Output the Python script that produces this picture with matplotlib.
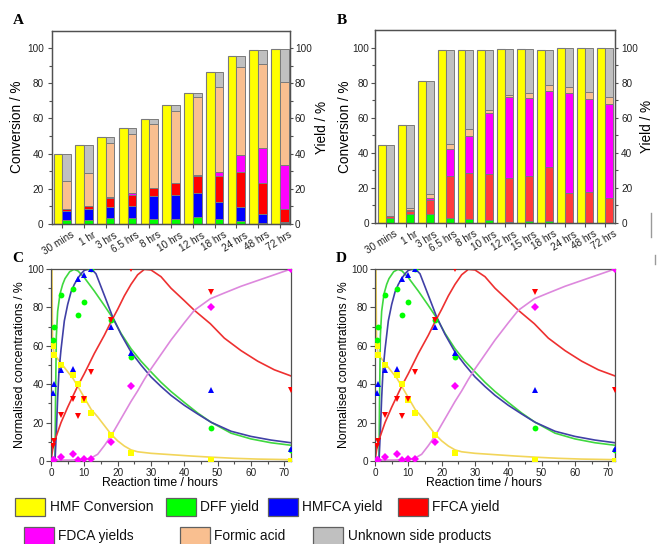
import matplotlib
matplotlib.use('Agg')
import matplotlib.pyplot as plt
from matplotlib.patches import Rectangle
from matplotlib.lines import Line2D
import matplotlib.transforms as mtransforms
import numpy as np

plt.rcParams['font.family'] = ['Liberation Sans', 'DejaVu Sans']

# ---------------- Panel A data ----------------
labels_a = ['30 mins', '1 hr', '3 hrs', '6.5 hrs', '8 hrs', '10 hrs', '12 hrs',
            '18 hrs', '24 hrs', '48 hrs', '72 hrs']
conv_a = [39.5, 44.7, 49.6, 54.8, 59.7, 67.9, 74.7, 86.5, 95.6, 99.2, 99.8]
dff_a = [2.1, 2.3, 3.0, 3.2, 2.7, 2.9, 3.6, 2.5, 1.7, 0.4, 0.2]
hmfca_a = [4.9, 5.9, 6.7, 6.9, 13.1, 13.4, 13.7, 9.7, 8.0, 5.1, 0.8]
ffca_a = [1.6, 2.1, 4.9, 6.2, 4.7, 6.7, 9.9, 14.9, 19.6, 17.5, 7.4]
fdca_a = [0.0, 0.0, 0.4, 1.0, 0.0, 0.3, 0.3, 2.6, 10.1, 20.2, 25.1]
formic_a = [15.7, 18.8, 30.8, 33.7, 36.3, 40.7, 44.5, 48.1, 49.8, 47.8, 47.1]
unknown_a = [15.2, 15.6, 3.8, 3.8, 2.9, 3.9, 2.7, 8.7, 6.4, 8.2, 19.2]

# ---------------- Panel B data ----------------
labels_b = ['30 mins', '1 hr', '3 hrs', '6.5 hrs', '8 hrs', '10 hrs', '12 hrs',
            '15 hrs', '18 hrs', '24 hrs', '48 hrs', '72 hrs']
conv_b = [44.2, 56.0, 80.8, 98.9, 98.9, 98.9, 99.4, 99.2, 98.9, 100, 100, 100]
dff_b = [2.5, 5.1, 5.0, 2.5, 1.9, 1.5, 0.6, 1.1, 1.1, 0.0, 0.0, 0.0]
hmfca_b = [0, 0, 0, 0, 0, 0, 0, 0, 0, 0, 0, 0]
ffca_b = [1.1, 1.6, 7.8, 24.2, 26.7, 26.1, 24.7, 25.6, 30.7, 16.8, 17.5, 13.9]
fdca_b = [0.0, 0.4, 1.5, 15.6, 20.9, 35.1, 46.5, 44.5, 43.2, 57.1, 53.4, 54.1]
formic_b = [0.3, 1.1, 1.9, 2.7, 4.0, 1.7, 1.3, 2.7, 3.5, 3.4, 3.8, 4.0]
unknown_b = [40.3, 47.8, 64.6, 53.9, 45.4, 34.5, 26.3, 25.3, 20.4, 22.7, 25.3, 28.0]

# ---------------- Panels C / D data ----------------
t_pts = [0.5, 1, 3, 6.5, 8, 10, 12, 18, 24, 48, 72]
hmf_pts = [60, 55, 50, 45, 40, 32, 25, 13.3, 4.0, 0.6, 0.2]
dff_pts = [63, 70, 86.5, 89.5, 76, 83, 100, 73.5, 54, 17, 5.5]
hmfca_pts = [35.5, 40, 47.5, 48, 95, 97, 100, 70, 56.5, 37, 6.5]
ffca_pts = [8, 10.5, 24, 32.5, 23.5, 32.5, 46.5, 73.5, 100, 88, 37]
fdca_pts = [0.5, 0.5, 2, 3.5, 0.3, 1, 1, 10, 39, 80, 100]

hmf_t = [0, 0.3, 0.45, 1, 3, 5, 6.6, 8, 10, 12, 14, 16, 18, 20, 22, 24, 26, 30, 36, 42, 48, 55, 62, 72]
hmf_c = [100, 100, 62, 55.5, 51, 46.5, 43, 39, 33, 27, 23, 18.5, 14, 10.5, 7.8, 5.8, 4.8, 4.0, 3.3, 2.6, 2.0, 1.4, 1.0, 0.7]
dff_t = [0, 1.2, 1.35, 1.6, 2, 2.7, 3.5, 4.2, 5.6, 6.9, 8.1, 10, 13, 16, 18.5, 21, 24, 27, 30, 33, 36, 40, 44, 48, 54, 60, 66, 72]
dff_c = [0, 0, 30, 65, 78, 87, 92, 95, 98.6, 99.8, 99, 95.5, 88.5, 81, 74.5, 66.5, 58.5, 52, 46.4, 41, 36.2, 30.5, 25, 20.2, 14.5, 11.5, 9.5, 8.2]
hmfca_t = [0, 1.2, 1.6, 2, 2.4, 3, 4, 5, 6, 7, 8, 9, 10, 11.5, 12.5, 13.5, 16, 18.5, 21, 24, 27, 30, 33, 36, 40, 44, 48, 54, 60, 66, 72]
hmfca_c = [0, 0, 15, 33, 47, 58, 73, 81.5, 88, 92, 95, 97.5, 99.3, 100, 99.3, 97.5, 86.3, 75, 66, 56.8, 50, 43.8, 38.8, 34.2, 29, 24.5, 20.2, 15.5, 12.8, 10.9, 9.5]
ffca_t = [0, 0.5, 1, 3, 5, 8, 10, 13, 16, 18, 20, 22, 24, 26, 28, 30, 33, 36, 40, 43, 47.8, 52, 57, 62, 67, 72]
ffca_c = [0, 6, 10, 20, 28, 39, 45.5, 56, 65.5, 72.5, 79, 86, 92, 97, 99.8, 99.5, 96, 90, 83.5, 78.5, 71.5, 64, 57.5, 52, 47.5, 44.3]
fdca_t = [0, 6, 10, 12, 14, 16, 18, 21, 24, 26, 28, 30, 33, 36, 40, 43, 47.8, 52, 57, 62, 67, 72]
fdca_c = [0.5, 0.5, 0.8, 1.5, 3.5, 8, 13, 22, 31, 36.5, 42.5, 48, 55.5, 63, 72, 78.5, 84.5, 87.5, 91, 94, 97, 100]

# ---------------- style ----------------
C_YEL = '#FFFF00'
C_GRN = '#00FF00'
C_BLU = '#0000FF'
C_RED = '#FF0000'
C_RED_B = '#FF3C3C'
C_MAG = '#FF00FF'
C_FOR = '#F9BF90'
C_GRY = '#C0C0C0'
EDGE = '#7A7A7A'
SPINE = '#505050'
TICK_FS = 7.2
LAB_FS = 8.8
BAR_LAB_FS = 9.8

W, H = 657, 544
fig = plt.figure(figsize=(W / 100, H / 100), dpi=100)


def rect(l, t, r, b):
    return [l / W, 1 - b / H, (r - l) / W, (b - t) / H]


def style_axis(ax):
    for s in ax.spines.values():
        s.set_color(SPINE)
        s.set_linewidth(0.9)
    ax.tick_params(which='both', direction='out', colors=SPINE, labelcolor='#222222',
                   labelsize=TICK_FS, width=0.8)
    ax.tick_params(which='major', length=3.5)
    ax.tick_params(which='minor', length=2)


def bar_panel(r, labels, conv, stacks, xlim, lpad_left, lpad_right, tpad_left, tpad_right):
    ax = fig.add_axes(r)
    x = np.arange(len(labels))
    ax.bar(x - 0.2, conv, width=0.4, color=C_YEL, edgecolor=EDGE, linewidth=0.8, zorder=2)
    bottom = np.zeros(len(labels))
    for vals, col in stacks:
        vals = np.asarray(vals, dtype=float)
        ax.bar(x + 0.2, vals, width=0.4, bottom=bottom, color=col,
               edgecolor=EDGE, linewidth=0.7, zorder=2)
        bottom += vals
    ax.set_xlim(*xlim)
    ax.set_ylim(0, 110)
    ax.set_yticks([0, 20, 40, 60, 80, 100])
    ax.set_yticks([10, 30, 50, 70, 90], minor=True)
    ax.set_xticks(x)
    ax.set_xticklabels(labels)
    style_axis(ax)
    ax.tick_params(axis='y', which='major', length=3, pad=tpad_left)
    ax.tick_params(axis='x', which='major', length=3, pad=1.5)
    offset = mtransforms.ScaledTranslation(6 / 72, 0, fig.dpi_scale_trans)
    for lab in ax.get_xticklabels():
        lab.set_rotation(32)
        lab.set_ha('right')
        lab.set_va('top')
        lab.set_rotation_mode('anchor')
        lab.set_transform(lab.get_transform() + offset)
    ax.set_ylabel('Conversion / %', fontsize=BAR_LAB_FS, labelpad=lpad_left)
    ax2 = ax.twinx()
    ax2.set_ylim(0, 110)
    ax2.set_yticks([0, 20, 40, 60, 80, 100])
    ax2.set_yticks([10, 30, 50, 70, 90], minor=True)
    style_axis(ax2)
    ax2.tick_params(axis='y', which='major', length=2.5, pad=tpad_right)
    ax2.set_ylabel('Yield / %', fontsize=BAR_LAB_FS, rotation=90, labelpad=lpad_right)
    return ax


bar_panel(rect(52, 30.7, 290, 223.7), labels_a, conv_a,
          [(dff_a, C_GRN), (hmfca_a, C_BLU), (ffca_a, C_RED), (fdca_a, C_MAG),
           (formic_a, C_FOR), (unknown_a, C_GRY)], (-0.47, 10.46), 2.0, 2.0, 3.0, 1.0)
bar_panel(rect(375, 30.2, 615, 222.7), labels_b, conv_b,
          [(dff_b, C_GRN), (hmfca_b, C_BLU), (ffca_b, C_RED_B), (fdca_b, C_MAG),
           (formic_b, C_FOR), (unknown_b, C_GRY)], (-0.54, 11.5), 0.5, 1.0, 1.2, 2.0)


def kin_panel(r):
    ax = fig.add_axes(r)
    ax.plot(hmf_t, hmf_c, color='#F2D55A', lw=1.2, zorder=2)
    ax.plot(dff_t, dff_c, color='#3FD83F', lw=1.2, zorder=2)
    ax.plot(hmfca_t, hmfca_c, color='#4040A6', lw=1.2, zorder=2)
    ax.plot(ffca_t, ffca_c, color='#EE3030', lw=1.2, zorder=2)
    ax.plot(fdca_t, fdca_c, color='#DD88DD', lw=1.2, zorder=2)
    ms = 4.2
    ax.plot(t_pts, hmf_pts, 's', color=C_YEL, ms=ms - 0.4, mew=0, zorder=3)
    ax.plot(t_pts, dff_pts, 'o', color=C_GRN, ms=ms, mew=0, zorder=3)
    ax.plot(t_pts, hmfca_pts, '^', color=C_BLU, ms=ms + 0.4, mew=0, zorder=3)
    ax.plot(t_pts, ffca_pts, 'v', color=C_RED, ms=ms + 0.4, mew=0, zorder=3)
    ax.plot(t_pts, fdca_pts, 'D', color=C_MAG, ms=ms - 0.6, mew=0, zorder=3)
    ax.set_xlim(0, 72)
    ax.set_ylim(0, 100)
    ax.set_xticks([0, 10, 20, 30, 40, 50, 60, 70])
    ax.set_xticks([5, 15, 25, 35, 45, 55, 65], minor=True)
    ax.set_yticks([0, 20, 40, 60, 80, 100])
    ax.set_yticks([10, 30, 50, 70, 90], minor=True)
    style_axis(ax)
    ax.tick_params(pad=1.5)
    ax.set_xlabel('Reaction time / hours', fontsize=LAB_FS, labelpad=1.5)
    ax.xaxis.set_label_coords(0.455, -0.085)
    ax.set_ylabel('Normalised concentrations / %', fontsize=LAB_FS, labelpad=0.5)
    return ax


kin_panel(rect(51, 269, 291, 461))
kin_panel(rect(375, 269, 615, 461))

# panel letters
for s, x, y in [('A', 13, 20), ('B', 337, 20), ('C', 12, 259), ('D', 336, 259)]:
    fig.text(x / W, 1 - y / H, s, fontsize=11, fontweight='bold',
             family=['Liberation Serif', 'DejaVu Serif'], va='center', ha='left')

# legend (figure level)
legend_items = [
    ('HMF Conversion', C_YEL, 15, 498),
    ('DFF yield', C_GRN, 166, 498),
    ('HMFCA yield', C_BLU, 268, 498),
    ('FFCA yield', C_RED, 398, 498),
    ('FDCA yields', C_MAG, 24, 527),
    ('Formic acid', C_FOR, 180, 527),
    ('Unknown side products', C_GRY, 313, 527),
]
pw, ph = 30, 18
for name, col, x, y in legend_items:
    fig.add_artist(Rectangle((x / W, 1 - (y + ph) / H), pw / W, ph / H,
                             transform=fig.transFigure, facecolor=col,
                             edgecolor='#606060', linewidth=0.9))
    fig.text((x + pw + 4.5) / W, 1 - (y + ph / 2) / H, name, fontsize=9.9,
             va='center', ha='left', color='#111111')

# small crop artefacts at the right edge
fig.add_artist(Line2D([651 / W, 651 / W], [1 - 213 / H, 1 - 237 / H],
                      transform=fig.transFigure, color='#9A9A9A', lw=1))
fig.add_artist(Line2D([655 / W, 655 / W], [1 - 255 / H, 1 - 264 / H],
                      transform=fig.transFigure, color='#9A9A9A', lw=1))

fig.savefig('out.png', dpi=100)
